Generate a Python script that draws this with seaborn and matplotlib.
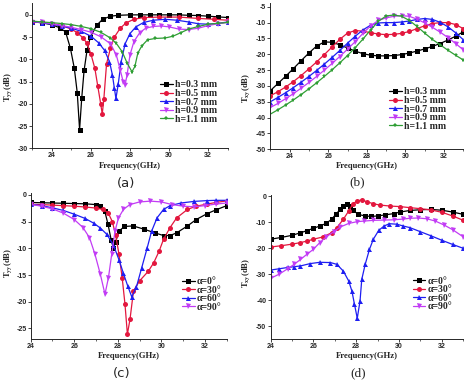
import matplotlib
matplotlib.use("Agg")
import matplotlib.pyplot as plt
import seaborn as sns
import pandas as pd
from matplotlib.ticker import MultipleLocator
from matplotlib.font_manager import FontProperties

sns.set_style("ticks")
plt.rcParams['mathtext.fontset'] = 'stix'
plt.rcParams['axes.unicode_minus'] = False

# ---------------- panel (a): Tyy vs h ----------------
a_labels = ["h=0.3 mm", "h=0.5 mm", "h=0.7 mm", "h=0.9 mm", "h=1.1 mm"]
a_f_03 = [23.0, 23.5, 24.0, 24.4, 24.7, 24.95, 25.15, 25.3, 25.42, 25.53, 25.65, 25.8, 25.97, 26.3, 26.6, 27.0, 27.4, 28.0, 28.5, 29.0, 29.5, 30.0, 30.5, 31.0, 31.5, 32.0, 32.5, 33.0]
a_v_03 = [-1.5, -1.8, -2.2, -2.9, -3.8, -7.5, -12.0, -17.5, -25.8, -18.7, -12.5, -8.0, -5.0, -2.3, -1.0, -0.3, -0.1, 0.0, 0.0, 0.0, 0.0, 0.0, 0.0, -0.1, -0.15, -0.3, -0.45, -0.6]
a_f_05 = [23.0, 23.5, 24.0, 24.5, 25.0, 25.3, 25.6, 25.8, 26.0, 26.2, 26.35, 26.5, 26.58, 26.66, 26.8, 27.0, 27.2, 27.5, 27.8, 28.2, 28.7, 29.5, 30.5, 31.5, 32.3, 33.0]
a_v_05 = [-1.5, -1.7, -1.95, -2.4, -3.2, -4.0, -5.2, -6.4, -8.8, -12.0, -16.0, -20.0, -22.3, -19.0, -11.0, -7.5, -5.0, -3.0, -1.8, -1.0, -0.6, -0.5, -0.5, -0.8, -1.0, -1.2]
a_f_07 = [23.0, 23.5, 24.0, 24.5, 25.0, 25.5, 26.0, 26.4, 26.7, 26.95, 27.1, 27.2, 27.28, 27.4, 27.55, 27.75, 28.0, 28.3, 28.7, 29.2, 29.8, 30.4, 31.0, 31.5, 32.0, 32.5, 33.0]
a_v_07 = [-1.5, -1.8, -2.1, -2.5, -3.0, -3.7, -4.8, -6.3, -8.0, -10.5, -13.5, -16.5, -18.8, -15.5, -10.5, -6.5, -4.2, -2.7, -1.7, -1.2, -1.0, -1.2, -1.6, -2.0, -2.1, -1.9, -1.6]
a_f_09 = [23.0, 23.5, 24.0, 24.5, 25.0, 25.5, 26.0, 26.5, 27.0, 27.3, 27.5, 27.65, 27.75, 27.85, 28.0, 28.2, 28.5, 28.8, 29.2, 29.6, 30.0, 30.5, 31.0, 31.5, 32.0, 32.5, 33.0]
a_v_09 = [-1.5, -1.7, -2.0, -2.4, -2.8, -3.3, -3.9, -4.9, -6.5, -9.0, -12.4, -15.0, -15.7, -13.5, -9.0, -6.0, -4.0, -3.0, -2.6, -2.5, -2.7, -3.2, -3.3, -3.0, -2.4, -2.0, -1.7]
a_f_11 = [23.0, 23.5, 24.0, 24.5, 25.0, 25.5, 26.0, 26.5, 27.0, 27.3, 27.6, 27.85, 28.1, 28.25, 28.4, 28.6, 28.9, 29.3, 29.8, 30.2, 30.6, 31.0, 31.5, 32.0, 32.5, 33.0]
a_v_11 = [-1.4, -1.6, -1.75, -1.95, -2.2, -2.6, -3.1, -3.9, -5.2, -6.4, -8.3, -10.8, -12.8, -11.6, -8.6, -7.0, -5.6, -5.3, -5.2, -4.8, -4.0, -3.2, -2.6, -2.1, -1.9, -1.7]

# ---------------- panel (b): Txy vs h ----------------
b_labels = a_labels
b_f = [23.0, 23.4, 23.8, 24.2, 24.6, 25.0, 25.4, 25.8, 26.2, 26.6, 27.0, 27.4, 27.8, 28.2, 28.6, 29.0, 29.4, 29.8, 30.2, 30.6, 31.0, 31.4, 31.8, 32.2, 32.6, 33.0]
b_v_03 = [-31.5, -29.2, -26.9, -24.5, -22.0, -19.6, -17.4, -16.1, -16.2, -17.0, -18.0, -19.0, -19.8, -20.3, -20.5, -20.5, -20.4, -20.1, -19.6, -19.0, -18.3, -17.5, -16.6, -15.5, -14.3, -12.9]
b_v_05 = [-33.1, -31.8, -30.3, -28.6, -26.7, -24.6, -22.4, -20.1, -17.7, -15.3, -13.3, -12.5, -12.7, -13.2, -13.6, -13.8, -13.7, -13.4, -12.8, -11.9, -11.0, -10.3, -10.0, -10.0, -10.6, -11.9]
b_v_07 = [-35.0, -33.6, -32.1, -30.5, -28.8, -27.0, -25.1, -23.1, -21.0, -18.8, -16.5, -14.3, -12.3, -10.8, -10.1, -10.0, -10.0, -9.8, -9.5, -9.0, -8.7, -9.0, -9.9, -11.3, -13.2, -15.4]
b_v_09 = [-36.8, -35.5, -34.0, -32.4, -30.7, -28.9, -27.0, -25.0, -22.9, -20.7, -18.4, -16.0, -13.4, -11.0, -9.3, -8.5, -8.0, -7.8, -8.0, -8.9, -10.1, -11.5, -13.0, -14.7, -16.6, -18.6]
b_v_11 = [-38.9, -37.5, -36.0, -34.4, -32.7, -30.9, -29.0, -27.0, -24.9, -22.7, -20.4, -17.9, -15.2, -12.3, -9.6, -7.9, -7.6, -8.0, -9.3, -11.2, -13.3, -15.3, -17.0, -18.7, -20.3, -21.8]

# ---------------- panel (c): Tyy vs alpha ----------------
c_labels = ["α=0°", "α=30°", "α=60°", "α=90°"]
c_f_0 = [24.0, 24.5, 25.0, 25.5, 26.0, 26.5, 27.0, 27.2, 27.4, 27.55, 27.7, 27.8, 27.9, 28.05, 28.3, 28.7, 29.2, 29.7, 30.1, 30.4, 30.7, 31.2, 31.6, 32.1, 32.5, 33.0]
c_v_0 = [-1.4, -1.45, -1.5, -1.55, -1.6, -1.65, -1.8, -2.0, -3.0, -5.5, -8.5, -10.0, -8.8, -6.8, -5.9, -5.8, -6.4, -7.1, -7.6, -7.6, -7.1, -5.8, -4.6, -3.5, -2.8, -2.0]
c_f_30 = [24.0, 24.5, 25.0, 25.5, 26.0, 26.5, 27.0, 27.3, 27.55, 27.75, 27.9, 28.05, 28.2, 28.33, 28.44, 28.56, 28.72, 29.0, 29.4, 29.65, 29.9, 30.1, 30.4, 30.7, 31.2, 31.6, 32.1, 32.5, 33.0]
c_v_30 = [-1.75, -1.8, -1.9, -2.0, -2.1, -2.25, -2.45, -2.7, -3.3, -5.0, -7.5, -11.0, -15.5, -20.5, -26.1, -23.3, -18.0, -16.1, -14.3, -12.7, -10.5, -8.3, -6.1, -4.3, -2.7, -2.1, -1.7, -1.4, -1.1]
c_f_60 = [24.0, 24.5, 25.0, 25.5, 26.0, 26.5, 26.9, 27.2, 27.5, 27.8, 28.05, 28.25, 28.45, 28.64, 28.85, 29.1, 29.35, 29.55, 29.8, 30.1, 30.4, 30.9, 31.5, 32.1, 32.5, 33.0]
c_v_60 = [-1.75, -2.0, -2.4, -2.9, -3.6, -4.4, -5.3, -6.2, -7.4, -9.4, -12.1, -14.6, -17.0, -19.1, -17.3, -13.6, -9.9, -6.8, -4.3, -2.7, -2.0, -1.5, -1.2, -1.05, -1.0, -1.0]
c_f_90 = [24.0, 24.5, 25.0, 25.5, 26.0, 26.4, 26.7, 26.95, 27.2, 27.41, 27.57, 27.72, 27.87, 28.03, 28.26, 28.55, 29.0, 29.5, 30.0, 30.5, 31.0, 31.5, 32.0, 32.5, 33.0]
c_v_90 = [-1.75, -2.1, -2.6, -3.4, -4.6, -6.1, -8.0, -11.1, -14.9, -18.6, -15.5, -11.1, -6.8, -4.3, -2.7, -1.8, -1.3, -1.15, -1.3, -1.8, -2.1, -2.2, -2.0, -1.7, -1.5]

# ---------------- panel (d): Txy vs alpha ----------------
d_labels = c_labels
d_f_0 = [24.0, 24.5, 25.0, 25.4, 25.7, 26.0, 26.3, 26.6, 26.85, 27.05, 27.25, 27.4, 27.55, 27.7, 27.85, 28.1, 28.4, 28.7, 29.0, 29.35, 29.75, 30.05, 30.5, 31.0, 31.5, 32.0, 32.5, 33.0]
d_v_0 = [-16.5, -15.8, -15.0, -14.0, -13.2, -12.3, -11.4, -10.4, -8.8, -6.9, -5.0, -3.7, -2.8, -3.7, -5.3, -6.9, -7.5, -7.7, -7.5, -7.1, -6.6, -6.0, -5.4, -5.1, -5.0, -5.3, -6.0, -6.9]
d_f_30 = [24.0, 24.5, 25.0, 25.4, 25.7, 26.0, 26.45, 26.85, 27.1, 27.4, 27.65, 27.85, 28.05, 28.25, 28.5, 28.8, 29.1, 29.6, 30.05, 30.5, 31.0, 31.5, 32.0, 32.5, 33.0]
d_v_30 = [-19.5, -19.0, -18.4, -17.8, -17.2, -16.5, -15.6, -14.0, -12.0, -8.8, -5.6, -2.8, -1.7, -1.35, -2.0, -2.8, -3.3, -3.7, -3.9, -4.3, -4.7, -5.2, -6.1, -7.5, -9.2]
d_f_60 = [24.0, 24.4, 24.8, 25.1, 25.4, 25.85, 26.3, 26.8, 27.1, 27.4, 27.65, 27.8, 27.92, 28.05, 28.18, 28.26, 28.42, 28.62, 28.8, 29.05, 29.3, 29.55, 29.9, 30.2, 30.5, 31.0, 31.5, 32.0, 32.5, 33.0]
d_v_60 = [-28.4, -27.9, -27.4, -27.1, -26.8, -25.9, -25.4, -25.5, -26.2, -28.8, -32.6, -36.5, -41.6, -47.0, -40.3, -32.0, -26.2, -20.4, -16.5, -13.1, -11.4, -10.5, -10.7, -11.4, -12.0, -13.6, -15.2, -16.9, -18.5, -20.0]
d_f_90 = [24.0, 24.4, 24.8, 25.1, 25.4, 25.7, 26.0, 26.3, 26.6, 26.95, 27.25, 27.65, 28.05, 28.35, 28.8, 29.3, 29.75, 30.2, 30.5, 30.9, 31.3, 31.7, 32.1, 32.5, 33.0]
d_v_90 = [-31.6, -30.0, -27.9, -26.2, -24.3, -22.3, -20.4, -17.8, -15.6, -13.6, -11.8, -10.4, -9.7, -9.5, -9.2, -9.1, -9.0, -8.7, -8.4, -8.3, -8.6, -9.5, -11.0, -12.8, -15.6]

COLORS = ["#000000", "#E3173E", "#1E1EF2", "#C23CF5", "#2F9E34"]
MARKERS = ["s", "o", "^", "v", "*"]

W, H = 474, 382
fig = plt.figure(figsize=(W / 100, H / 100), dpi=100)

def px_axes(l, t, r, b):
    return fig.add_axes([l / W, 1 - b / H, (r - l) / W, (b - t) / H])

TICKFONT = FontProperties(family="Liberation Sans", weight="bold", size=5.0)
LABFONT = FontProperties(family="Liberation Serif", weight="bold", size=6.2)
LEGFONT = FontProperties(family="Liberation Serif", weight="bold", size=7)

def draw(ax, series, labels, xlim, ylim, ystep, ylab, ylab_px, xlab_y, leg_px, box):
    l, t, r, b = box
    frames = []
    for (f, v), lab in zip(series, labels):
        frames.append(pd.DataFrame({"f": f, "v": v, "label": lab}))
    df = pd.concat(frames, ignore_index=True)
    n = len(labels)
    pal = dict(zip(labels, COLORS[:n]))
    mk = dict(zip(labels, MARKERS[:n]))
    sns.lineplot(data=df, x="f", y="v", hue="label", style="label",
                 hue_order=labels, style_order=labels, palette=pal,
                 markers=mk, dashes=False, estimator=None, sort=False,
                 linewidth=0.9, markersize=3.6, markeredgewidth=0, ax=ax)
    ax.set_xlim(*xlim)
    ax.set_ylim(*ylim)
    ax.xaxis.set_major_locator(MultipleLocator(2))
    ax.xaxis.set_minor_locator(MultipleLocator(1))
    ax.yaxis.set_major_locator(MultipleLocator(ystep))
    for s in ("top", "right"):
        ax.spines[s].set_visible(False)
    for s in ("left", "bottom"):
        ax.spines[s].set_linewidth(0.7)
    ax.tick_params(which="major", length=2, width=0.6, direction="out", pad=1.0)
    ax.tick_params(which="minor", length=1.2, width=0.5, direction="out")
    for lab in ax.get_xticklabels() + ax.get_yticklabels():
        lab.set_fontproperties(TICKFONT)
    ax.set_xlabel("Frequency(GHz)", fontproperties=LABFONT)
    ax.set_ylabel(ylab, fontproperties=LABFONT)
    ax.xaxis.label.set_va("center")
    ax.yaxis.label.set_va("center")
    ax.xaxis.set_label_coords(0.5, (b - xlab_y) / (b - t))
    ax.yaxis.set_label_coords((ylab_px[0] - l) / (r - l), (b - ylab_px[1]) / (b - t))
    handles, labs = ax.get_legend_handles_labels()
    ax.legend(handles, labs, loc="upper left",
              bbox_to_anchor=((leg_px[0] - l) / (r - l), (b - leg_px[1]) / (b - t)),
              frameon=False, prop=LEGFONT, handlelength=1.3, handletextpad=0.25,
              labelspacing=-0.05, borderpad=0, borderaxespad=0)

box_a = (32.3, 3.3, 227.7, 148.3)
box_b = (270.3, 3.3, 463.3, 149.3)
box_c = (30.7, 193.4, 226.7, 339.0)
box_d = (270.5, 195.2, 463.3, 339.0)

ax_a = px_axes(*box_a)
draw(ax_a, [(a_f_03, a_v_03), (a_f_05, a_v_05), (a_f_07, a_v_07), (a_f_09, a_v_09), (a_f_11, a_v_11)],
     a_labels, (23, 33), (-30, 2.6), 5, r"$\mathbf{T}_{\mathbf{yy}}$(dB)", (8.5, 87), 165.7, (160, 80.5), box_a)

ax_b = px_axes(*box_b)
draw(ax_b, [(b_f, b_v_03), (b_f, b_v_05), (b_f, b_v_07), (b_f, b_v_09), (b_f, b_v_11)],
     b_labels, (23, 33), (-50, -3.9), 5, r"$\mathbf{T}_{\mathbf{xy}}$(dB)", (246.5, 88), 165.7, (389, 87.5), box_b)

ax_c = px_axes(*box_c)
draw(ax_c, [(c_f_0, c_v_0), (c_f_30, c_v_30), (c_f_60, c_v_60), (c_f_90, c_v_90)],
     c_labels, (24, 33), (-27, 0.3), 5, r"$\mathbf{T}_{\mathbf{yy}}$(dB)", (8.5, 263), 355.5, (182, 277), box_c)

ax_d = px_axes(*box_d)
draw(ax_d, [(d_f_0, d_v_0), (d_f_30, d_v_30), (d_f_60, d_v_60), (d_f_90, d_v_90)],
     d_labels, (24, 33), (-55, 0.5), 10, r"$\mathbf{T}_{\mathbf{xy}}$(dB)", (246.5, 273), 355.5, (412.7, 276.5), box_d)

for txt, x, y, fam in [("(a)", 126.5, 183.3, "DejaVu Sans"), ("(b)", 357, 182.5, "Liberation Serif"),
                       ("(c)", 122, 373.5, "DejaVu Sans"), ("(d)", 358, 373, "Liberation Serif")]:
    fig.text(x / W, 1 - y / H, txt, ha="center", va="center", fontsize=9.5, family=fam)

fig.savefig("out.png", dpi=100)
